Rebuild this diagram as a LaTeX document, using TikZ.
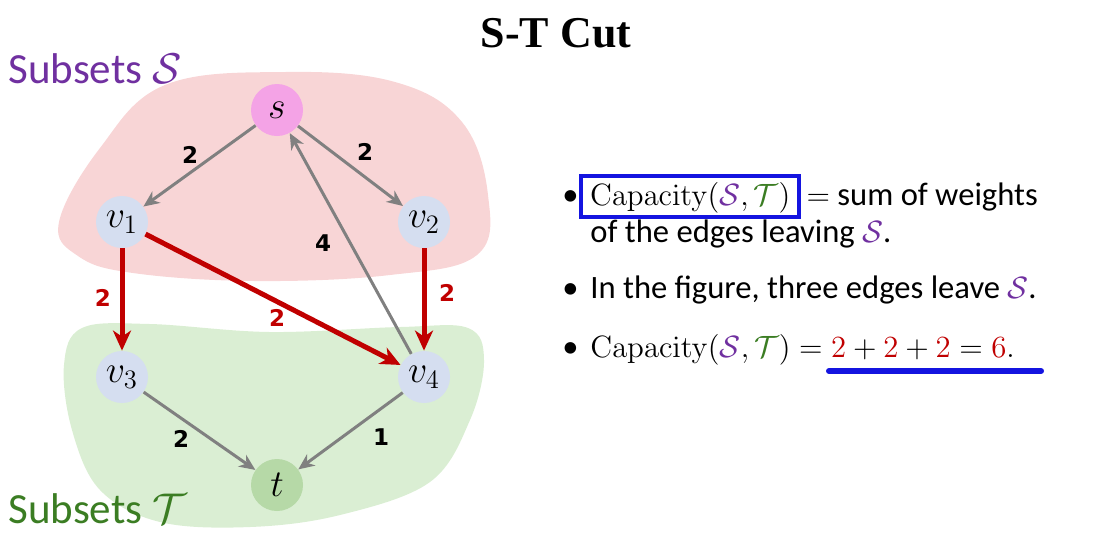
\RequirePackage{fix-cm}
\documentclass[tikz,border=0pt]{standalone}
\usepackage[no-math]{fontspec}
\setmainfont{Carlito}
\newfontfamily\titlefont{Liberation Serif}
\newfontfamily\lblfont{DejaVu Sans}
\usetikzlibrary{arrows.meta}
\definecolor{pinkreg}{HTML}{F8D5D6}
\definecolor{greenreg}{HTML}{DAEED3}
\definecolor{snode}{HTML}{F4A3E6}
\definecolor{vnode}{HTML}{D5DEF0}
\definecolor{tnode}{HTML}{B6D9A7}
\definecolor{sPurple}{HTML}{7030A0}
\definecolor{tGreen}{HTML}{3B7D23}
\definecolor{cutRed}{HTML}{C00000}
\definecolor{edgeGray}{HTML}{808080}
\definecolor{boxBlue}{HTML}{1414E0}
\newcommand{\cS}{\textcolor{sPurple}{\mathcal{S}}}
\newcommand{\cT}{\textcolor{tGreen}{\mathcal{T}}}
\newcommand{\rtwo}{\textcolor{cutRed}{2}}
\newcommand{\mth}[1]{{\fontsize{15.4}{19}\selectfont$#1$}}
\begin{document}
\begin{tikzpicture}[x=0.5pt,y=-0.5pt,
  vert/.style={circle, minimum size=26pt, inner sep=0pt, font=\fontsize{19}{19}\selectfont},
  garrow/.style={draw=edgeGray, line width=1.5pt, -{Stealth[length=8pt,width=7pt,inset=2.5pt]}},
  rarrow/.style={draw=cutRed, line width=2.5pt, -{Stealth[length=10pt,width=9pt,inset=3pt]}},
  wlabel/.style={font=\lblfont\bfseries\fontsize{11.5}{13}\selectfont, inner sep=0pt},
  txt/.style={anchor=base west, inner sep=0pt, font=\fontsize{16.3}{19}\selectfont},
  bul/.style={anchor=base west, inner sep=0pt, font=\fontsize{16.3}{19}\selectfont},
  sublabel/.style={anchor=base west, inner sep=0pt, font=\fontsize{21.5}{25}\selectfont}]
\useasboundingbox (0,0) rectangle (1106,553);
% regions
\fill[pinkreg] plot[smooth cycle, tension=0.65] coordinates {(59,222) (100,148) (165,85) (285,72) (395,82) (462,122) (488,195) (477,255) (390,275) (255,281) (133,273) (78,256)};
\fill[greenreg] plot[smooth cycle, tension=0.6] coordinates {(64,365) (82,328) (150,324) (270,332) (400,327) (468,328) (484,360) (470,420) (430,482) (340,515) (250,527) (160,522) (100,490) (72,430)};
% title
\node[inner sep=0pt, anchor=base, font=\titlefont\bfseries\fontsize{22}{26}\selectfont] (title) at (556,47) {S-T Cut};
% subset labels
\node[sublabel, text=sPurple] (subS) at (8,83) {Subsets $\mathcal{S}$};
\node[sublabel, text=tGreen] (subT) at (8,523) {Subsets $\mathcal{T}$};
% vertices
\node[vert, fill=snode] (s) at (277,110) {$s$};
\node[vert, fill=vnode] (v1) at (122,222) {$v_1$};
\node[vert, fill=vnode] (v2) at (424,222) {$v_2$};
\node[vert, fill=vnode] (v3) at (122,377) {$v_3$};
\node[vert, fill=vnode] (v4) at (424,377) {$v_4$};
\node[vert, fill=tnode] (t) at (277,485) {$t$};
% edges
\draw[garrow] (s) -- (v1);
\draw[garrow] (s) -- (v2);
\draw[garrow] (v4) -- (s);
\draw[garrow] (v3) -- (t);
\draw[garrow] (v4) -- (t);
\draw[rarrow] (v1) -- (v3);
\draw[rarrow] (v2) -- (v4);
\draw[rarrow] (v1) -- (v4);
% weights
\node[wlabel] (w1) at (190,155) {2};
\node[wlabel] (w2) at (365,152) {2};
\node[wlabel] (w3) at (323,243) {4};
\node[wlabel, text=cutRed] (w4) at (103,298) {2};
\node[wlabel, text=cutRed] (w5) at (447,293) {2};
\node[wlabel, text=cutRed] (w6) at (277,318) {2};
\node[wlabel] (w7) at (181,439) {2};
\node[wlabel] (w8) at (381,437) {1};
% bullets
\node[bul] (b1) at (562,205) {\textbullet};
\node[txt, draw=boxBlue, line width=2pt, inner xsep=4.5pt, inner ysep=0pt, text height=14.5pt, text depth=6pt] (cap1) at (579,205) {\mth{\mathrm{Capacity}(\cS,\cT)}};
\node[txt] (rest1) at ([xshift=2.5pt]cap1.base east) {\mth{=} sum of weights};
\node[txt] (line2) at (590,242) {of the edges leaving \mth{\cS}.};
\node[bul] (b2) at (562,298) {\textbullet};
\node[txt] (line3) at (590,298) {In the figure, three edges leave \mth{\cS}.};
\node[bul] (b3) at (562,357) {\textbullet};
\node[txt] (line4) at (590,357) {\mth{\mathrm{Capacity}(\cS,\cT) = \rtwo + \rtwo + \rtwo = \textcolor{cutRed}{6}.}};
\coordinate (ul1) at (829,371);
\coordinate (ul2) at (1041,371);
\draw[boxBlue, line width=3pt, line cap=round] (ul1) -- (ul2);
\end{tikzpicture}
\end{document}
